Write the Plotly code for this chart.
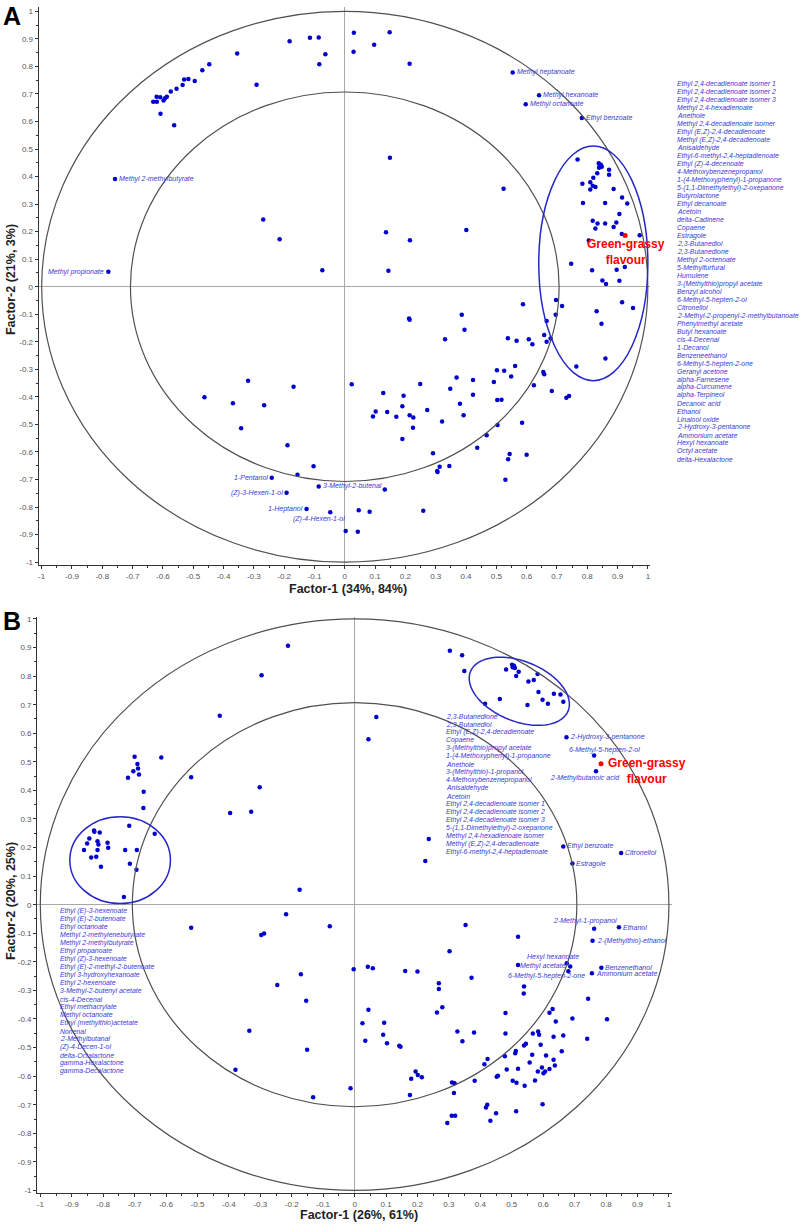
import numpy as np
import plotly.graph_objects as go

W, H = 800, 1224
FONT = "Liberation Sans, Arial, sans-serif"
PT_COLOR = "#0000cc"
LAB_COLOR = "#3a3ad6"
CIRCLE_COLOR = "#505050"
ELL_COLOR = "#2727c8"

# ---------------- tick labels ----------------
tick_vals = [-1, -0.9, -0.8, -0.7, -0.6, -0.5, -0.4, -0.3, -0.2, -0.1, 0,
             0.1, 0.2, 0.3, 0.4, 0.5, 0.6, 0.7, 0.8, 0.9, 1]
tick_text = ["-1", "-0.9", "-0.8", "-0.7", "-0.6", "-0.5", "-0.4", "-0.3", "-0.2", "-0.1", "0",
             "0.1", "0.2", "0.3", "0.4", "0.5", "0.6", "0.7", "0.8", "0.9", "1"]

# ---------------- Panel A data ----------------
a_x = [-0.632, -0.620, -0.621, -0.609, -0.598, -0.593, -0.587, -0.608, -0.574, -0.555, -0.535, -0.530,
       -0.516, -0.495, -0.470, -0.447, -0.563, -0.355, -0.291, -0.182, -0.115, -0.086, -0.064, -0.084,
       0.030, 0.029, 0.097, 0.148, 0.149, -0.269, -0.215, 0.136, -0.074, 0.144,
       0.214, 0.524, 0.401, 0.215, 0.768, 0.838, 0.845, 0.841, 0.848, 0.839, 0.872, 0.872, 0.833, 0.820,
       0.784, 0.810, 0.818, 0.827, 0.810, 0.887, 0.786, 0.859, 0.915, 0.932, 0.906, 0.818, 0.834, 0.859,
       0.896, 0.827, 0.887, 0.914, 0.973, 0.747, 0.816, 0.897, 0.924, 0.850, 0.862, 0.906, 0.805,
       0.697, 0.717, 0.588, 0.915, 0.951, 0.831, 0.696, 0.847, 0.666, 0.212, 0.214, 0.386, 0.395, 0.331,
       0.538, 0.567, 0.607, 0.619, 0.658, 0.666, 0.679, 0.860, 0.764, 0.502, 0.526, 0.562, 0.549, 0.655,
       0.658, 0.624, 0.683, 0.731, 0.740, 0.492, 0.369, 0.423, 0.249, 0.348, 0.423, 0.194, 0.503, 0.517,
       0.380, 0.190, 0.272, 0.392, 0.214, 0.226, 0.225, 0.190, 0.321, 0.504, 0.585, 0.468, 0.437, 0.291,
       0.313, 0.305, 0.306, 0.345, 0.539, 0.544, 0.600, 0.530, 0.259,
       -0.463, -0.369, -0.319, -0.266, -0.169, -0.342, -0.189, -0.103, -0.156, 0.132, 0.046, 0.082,
       0.003, 0.043, 0.023, 0.127, 0.102, 0.093, 0.140, 0.170]
a_y = [0.672, 0.672, 0.690, 0.688, 0.676, 0.684, 0.690, 0.628, 0.709, 0.719, 0.732, 0.752,
       0.754, 0.747, 0.786, 0.808, 0.586, 0.847, 0.733, 0.891, 0.904, 0.905, 0.844, 0.808,
       0.922, 0.853, 0.879, 0.924, 0.468, 0.244, 0.172, 0.198, 0.060, 0.058,
       0.810, 0.356, 0.206, 0.169, 0.462, 0.448, 0.443, 0.437, 0.436, 0.432, 0.425, 0.407, 0.412, 0.396,
       0.374, 0.379, 0.367, 0.362, 0.353, 0.355, 0.304, 0.304, 0.324, 0.302, 0.264, 0.240, 0.230, 0.230,
       0.233, 0.211, 0.217, 0.191, 0.187, 0.083, 0.060, 0.062, 0.072, 0.023, 0.010, 0.022, 0.168,
       -0.048, -0.070, -0.064, -0.056, -0.077, -0.089, -0.102, -0.134, -0.124, -0.115, -0.120, -0.102, -0.156, -0.191,
       -0.187, -0.196, -0.191, -0.209, -0.175, -0.200, -0.188, -0.261, -0.290, -0.303, -0.305, -0.288, -0.326, -0.310,
       -0.318, -0.358, -0.379, -0.403, -0.397, -0.346, -0.330, -0.339, -0.353, -0.370, -0.392, -0.396, -0.411, -0.410,
       -0.425, -0.434, -0.448, -0.467, -0.467, -0.475, -0.512, -0.553, -0.489, -0.502, -0.494, -0.539, -0.585, -0.605,
       -0.654, -0.669, -0.673, -0.651, -0.626, -0.607, -0.610, -0.701, -0.813,
       -0.401, -0.423, -0.341, -0.430, -0.363, -0.514, -0.576, -0.652, -0.683, -0.736, -0.812, -0.817,
       -0.887, -0.890, -0.354, -0.386, -0.453, -0.471, -0.455, -0.472]

a_lab_names = ["Methyl heptanoate", "Methyl hexanoate", "Methyl octanoate", "Ethyl benzoate",
               "Methyl 2-methylbutyrate", "Methyl propionate", "1-Pentanol", "(Z)-3-Hexen-1-ol",
               "3-Methyl-2-butenal", "1-Heptanol", "(Z)-4-Hexen-1-ol"]
a_lab_x = [0.554, 0.641, 0.597, 0.782, -0.758, -0.780, -0.241, -0.192, -0.086, -0.126, -0.048]
a_lab_y = [0.778, 0.695, 0.663, 0.613, 0.391, 0.054, -0.694, -0.748, -0.725, -0.807, -0.819]
a_lab_side = ["r", "r", "r", "r", "r", "l", "l", "l", "r", "l", "bl"]

a_red_x = [0.925]
a_red_y = [0.186]

a_list = ["Ethyl 2,4-decadienoate isomer 1", "Ethyl 2,4-decadienoate isomer 2",
          "Ethyl 2,4-decadienoate isomer 3", "Methyl 2,4-hexadienoate", "Anethole",
          "Methyl 2,4-decadienoate isomer", "Ethyl (E,Z)-2,4-decadienoate",
          "Methyl (E,Z)-2,4-decadienoate", "Anisaldehyde", "Ethyl-6-methyl-2,4-heptadienoate",
          "Ethyl (Z)-4-decenoate", "4-Methoxybenzenepropanol", "1-(4-Methoxyphenyl)-1-propanone",
          "5-(1,1-Dimethylethyl)-2-oxepanone", "Butyrolactone", "Ethyl decanoate", "Acetoin",
          "delta-Cadinene", "Copaene", "Estragole", "2,3-Butanediol", "2,3-Butanedione",
          "Methyl 2-octenoate", "5-Methylfurfural", "Humulene", "3-(Methylthio)propyl acetate",
          "Benzyl alcohol", "6-Methyl-5-hepten-2-ol", "Citronellol",
          "2-Methyl-2-propenyl-2-methylbutanoate", "Phenylmethyl acetate", "Butyl hexanoate",
          "cis-4-Decenal", "1-Decanol", "Benzeneethanol", "6-Methyl-5-hepten-2-one",
          "Geranyl acetone", "alpha-Farnesene", "alpha-Curcumene", "alpha-Terpineol",
          "Decanoic acid", "Ethanol", "Linalool oxide", "2-Hydroxy-3-pentanone",
          "Ammonium acetate", "Hexyl hexanoate", "Octyl acetate", "delta-Hexalactone"]

# ---------------- Panel B data ----------------
b_x = [-0.212, -0.296, -0.429, 0.069, 0.044, -0.615, -0.700, -0.691, -0.689, -0.704, -0.686, -0.721,
       -0.520, -0.671, -0.302, -0.672, -0.396, -0.329, -0.717, -0.636, -0.829, -0.828, -0.811, -0.844,
       -0.851, -0.818, -0.815, -0.786, -0.784, -0.861, -0.818, -0.730, -0.693, -0.838, -0.822, -0.715,
       -0.807, -0.694, -0.175, -0.734,
       0.303, 0.342, 0.349, 0.415, 0.462, 0.482, 0.501, 0.507, 0.510, 0.503, 0.522, 0.514, 0.553, 0.570,
       0.582, 0.585, 0.598, 0.615, 0.634, 0.655, 0.664, 0.550, 0.236, 0.225,
       -0.218, -0.079, -0.520, -0.297, -0.288, -0.003, 0.042, 0.058, -0.171, -0.246, -0.154, 0.044,
       0.025, 0.094, -0.335, 0.091, 0.034, 0.103, 0.142, -0.151, -0.379, -0.013, -0.132,
       0.353, 0.520, 0.302, 0.161, 0.200, 0.372, 0.268, 0.268, 0.520, 0.539, 0.538, 0.279, 0.262, 0.146,
       0.327, 0.343, 0.380, 0.480, 0.480, 0.478, 0.413, 0.423, 0.484, 0.452, 0.456, 0.194, 0.201, 0.180,
       0.214, 0.176, 0.310, 0.318, 0.316, 0.382, 0.503, 0.515, 0.520, 0.513, 0.511, 0.539, 0.545, 0.541,
       0.574, 0.557, 0.565, 0.567, 0.584, 0.587, 0.592, 0.609, 0.583, 0.596, 0.601, 0.606, 0.620, 0.633,
       0.637, 0.633, 0.664, 0.659, 0.620, 0.630, 0.640, 0.693, 0.743, 0.803, 0.740, 0.598, 0.422, 0.418,
       0.450, 0.432, 0.514, 0.309, 0.320, 0.295]
b_y = [0.906, 0.803, 0.661, 0.657, 0.579, 0.515, 0.518, 0.492, 0.477, 0.467, 0.456, 0.444,
       0.446, 0.395, 0.411, 0.338, 0.321, 0.325, 0.276, 0.248, 0.260, 0.255, 0.253, 0.232,
       0.214, 0.222, 0.211, 0.217, 0.199, 0.191, 0.191, 0.191, 0.191, 0.165, 0.168, 0.143,
       0.133, 0.122, 0.052, 0.027,
       0.889, 0.873, 0.818, 0.703, 0.720, 0.823, 0.840, 0.836, 0.828, 0.831, 0.815, 0.800, 0.781, 0.786,
       0.807, 0.744, 0.717, 0.703, 0.738, 0.736, 0.710, 0.699, 0.230, 0.153,
       -0.033, -0.075, -0.081, -0.106, -0.101, -0.226, -0.217, -0.222, -0.243, -0.281, -0.336, -0.368,
       -0.415, -0.413, -0.441, -0.455, -0.476, -0.485, -0.494, -0.508, -0.578, -0.642, -0.674,
       -0.071, -0.112, -0.163, -0.232, -0.234, -0.256, -0.275, -0.295, -0.211, -0.286, -0.311, -0.359, -0.377, -0.497,
       -0.444, -0.478, -0.447, -0.379, -0.451, -0.530, -0.558, -0.540, -0.577, -0.602, -0.599, -0.584, -0.596, -0.609,
       -0.604, -0.666, -0.622, -0.625, -0.659, -0.616, -0.616, -0.623, -0.574, -0.512, -0.520, -0.493, -0.487, -0.634,
       -0.615, -0.552, -0.525, -0.451, -0.444, -0.455, -0.490, -0.528, -0.584, -0.570, -0.590, -0.584, -0.575, -0.543,
       -0.563, -0.462, -0.458, -0.513, -0.378, -0.365, -0.409, -0.398, -0.329, -0.401, -0.469, -0.698, -0.700, -0.710,
       -0.730, -0.756, -0.723, -0.739, -0.739, -0.764]

b_lab_names = ["2-Hydroxy-3-pentanone", "6-Methyl-5-hepten-2-ol", "2-Methylbutanoic acid",
               "Ethyl benzoate", "Estragole", "Citronellol", "Hexyl hexanoate", "Methyl acetate",
               "6-Methyl-5-hepten-2-one", "2-Methyl-1-propanol", "Ethanol", "2-(Methylthio)-ethanol",
               "Benzenethanol", "Ammonium acetate"]
b_lab_x = [0.674, 0.762, 0.768, 0.664, 0.693, 0.848, 0.675, 0.686, 0.680, 0.762, 0.841, 0.757, 0.785, 0.755]
b_lab_y = [0.586, 0.522, 0.467, 0.204, 0.144, 0.181, -0.205, -0.216, -0.233, -0.084, -0.079, -0.126, -0.221, -0.240]
b_lab_side = ["r", "a", "bl", "r", "r", "r", "al", "l", "bl2", "al2", "r", "r", "r", "r"]

b_red_x = [0.784]
b_red_y = [0.493]

b_list_mid = ["2,3-Butanedione", "2,3-Butanediol", "Ethyl (E,Z)-2,4-decadienoate", "Copaene",
              "3-(Methylthio)propyl acetate", "1-(4-Methoxyphenyl)-1-propanone", "Anethole",
              "3-(Methylthio)-1-propanol", "4-Methoxybenzenepropanol", "Anisaldehyde", "Acetoin",
              "Ethyl 2,4-decadienoate isomer 1", "Ethyl 2,4-decadienoate isomer 2",
              "Ethyl 2,4-decadienoate isomer 3", "5-(1,1-Dimethylethyl)-2-oxepanone",
              "Methyl 2,4-hexadienoate isomer", "Methyl (E,Z)-2,4-decadienoate",
              "Ethyl-6-methyl-2,4-heptadienoate"]
b_list_left = ["Ethyl (E)-3-hexenoate", "Ethyl (E)-2-butenoate", "Ethyl octanoate",
               "Methyl 2-methylenebutyrate", "Methyl 2-methylbutyrate", "Ethyl propanoate",
               "Ethyl (Z)-3-hexenoate", "Ethyl (E)-2-methyl-2-butenoate", "Ethyl 3-hydroxyhexanoate",
               "Ethyl 2-hexenoate", "3-Methyl-2-butenyl acetate", "cis-4-Decenal", "Ethyl methacrylate",
               "Methyl octanoate", "Ethyl (methylthio)actetate", "Nonenal", "2-Methylbutanal",
               "(Z)-4-Decen-1-ol", "delta-Octalactone", "gamma-Hexalactone", "gamma-Decalactone"]

# ---------------- layout geometry (pixels) ----------------
A_xr, A_yr = [-1.01, 1.008], [-1.012, 1.015]
B_xr, B_yr = [-1.01, 1.01], [-1.01, 1.008]
A_px = (37.7, 650.1, 5.2, 565.3)     # left, right, top, bottom
B_px = (36.2, 671.9, 616.7, 1195.2)

def dom_x(p):
    return [p[0] / W, p[1] / W]

def dom_y(p):
    return [1 - p[3] / H, 1 - p[2] / H]

fig = go.Figure()

def pts(x, y, xa, ya, color, size=4.5):
    fig.add_trace(go.Scatter(x=x, y=y, mode="markers", xaxis=xa, yaxis=ya,
                             marker=dict(color=color, size=size, line=dict(width=0)),
                             showlegend=False, hoverinfo="skip"))

pts(a_x, a_y, "x", "y", PT_COLOR)
pts(a_lab_x, a_lab_y, "x", "y", PT_COLOR)
pts(a_red_x, a_red_y, "x", "y", "#ff0000", 5)
pts(b_x, b_y, "x2", "y2", PT_COLOR)
pts(b_lab_x, b_lab_y, "x2", "y2", PT_COLOR)
pts(b_red_x, b_red_y, "x2", "y2", "#ff0000", 5)

axis_common = dict(showline=True, linecolor="#333333", linewidth=1, ticks="outside", ticklen=3,
                   tickcolor="#333333", tickwidth=1, showgrid=False, zeroline=True,
                   zerolinecolor="#a8a8a8", zerolinewidth=1,
                   tickmode="array", tickvals=tick_vals, ticktext=tick_text,
                   tickfont=dict(family=FONT, size=8, color="#555555"),
                   minor=dict(ticks="outside", ticklen=2, tickcolor="#333333",
                              tickmode="linear", tick0=0, dtick=0.05),
                   fixedrange=True)

fig.update_layout(
    width=W, height=H, margin=dict(l=0, r=0, t=0, b=0),
    paper_bgcolor="white", plot_bgcolor="white",
    font=dict(family=FONT),
    xaxis=dict(domain=dom_x(A_px), range=A_xr, anchor="y", **axis_common),
    yaxis=dict(domain=dom_y(A_px), range=A_yr, anchor="x", **axis_common),
    xaxis2=dict(domain=dom_x(B_px), range=B_xr, anchor="y2", **axis_common),
    yaxis2=dict(domain=dom_y(B_px), range=B_yr, anchor="x2", **axis_common),
)

shapes = []
for xr, yr in (("x", "y"), ("x2", "y2")):
    for r in (1.0, np.sqrt(0.5)):
        shapes.append(dict(type="circle", xref=xr, yref=yr, x0=-r, x1=r, y0=-r, y1=r,
                           line=dict(color=CIRCLE_COLOR, width=1.2)))

# ellipses (centre, radii in data units)
ell_a = dict(cx=0.820, cy=0.085, rx=0.180, ry=0.426)
ell_b_left = dict(cx=-0.746, cy=0.156, rx=0.160, ry=0.152)
for e, xr, yr in ((ell_a, "x", "y"), (ell_b_left, "x2", "y2")):
    shapes.append(dict(type="circle", xref=xr, yref=yr,
                       x0=e["cx"] - e["rx"], x1=e["cx"] + e["rx"],
                       y0=e["cy"] - e["ry"], y1=e["cy"] + e["ry"],
                       line=dict(color=ELL_COLOR, width=1.5)))

# tilted ellipse in panel B (semi-axes given in screen pixels, tilt in degrees)
ell_b_top = dict(cx=0.524, cy=0.747, a_px=52.7, b_px=30.1, tilt=-22)
sxB = (B_px[1] - B_px[0]) / (B_xr[1] - B_xr[0])
syB = (B_px[3] - B_px[2]) / (B_yr[1] - B_yr[0])
t = np.linspace(0, 2 * np.pi, 120)
th = np.radians(ell_b_top["tilt"])
ux = ell_b_top["a_px"] * np.cos(t) * np.cos(th) - ell_b_top["b_px"] * np.sin(t) * np.sin(th)
uy = ell_b_top["a_px"] * np.cos(t) * np.sin(th) + ell_b_top["b_px"] * np.sin(t) * np.cos(th)
ex = ell_b_top["cx"] + ux / sxB
ey = ell_b_top["cy"] + uy / syB
path = "M " + " L ".join(f"{a:.5f},{b:.5f}" for a, b in zip(ex, ey)) + " Z"
shapes.append(dict(type="path", xref="x2", yref="y2", path=path,
                   line=dict(color=ELL_COLOR, width=1.5)))
fig.update_layout(shapes=shapes)

ann = []
LAB_FONT = dict(family=FONT, size=7, color=LAB_COLOR, style="italic")
LIST_FONT = dict(family=FONT, size=6.9, color=LAB_COLOR, style="italic")

side_cfg = {
    "r": dict(xanchor="left", xshift=3, yshift=0),
    "l": dict(xanchor="right", xshift=-3, yshift=0),
    "bl": dict(xanchor="center", xshift=-11, yshift=-7),
    "a": dict(xanchor="center", xshift=10, yshift=6),
    "al": dict(xanchor="center", xshift=-14, yshift=6),
    "bl2": dict(xanchor="center", xshift=-22, yshift=-5),
    "al2": dict(xanchor="center", xshift=-9, yshift=8),
}

def point_labels(names, xs, ys, sides, xr, yr):
    for n, x, y, s in zip(names, xs, ys, sides):
        c = side_cfg[s]
        ann.append(dict(text=n, x=x, y=y, xref=xr, yref=yr, showarrow=False,
                        xanchor=c["xanchor"], yanchor="middle", xshift=c["xshift"],
                        yshift=c["yshift"], font=LAB_FONT, borderpad=0))

point_labels(a_lab_names, a_lab_x, a_lab_y, a_lab_side, "x", "y")
point_labels(b_lab_names, b_lab_x, b_lab_y, b_lab_side, "x2", "y2")

def text_list(names, x_px, y0_px, step):
    for i, n in enumerate(names):
        ann.append(dict(text=n, x=x_px / W, y=1 - (y0_px + i * step) / H, xref="paper", yref="paper",
                        showarrow=False, xanchor="left", yanchor="middle", font=LIST_FONT, borderpad=0))

text_list(a_list, 676.0, 82.0, 8.02)
text_list(b_list_mid, 444.3, 716.7, 8.0)
text_list(b_list_left, 58.0, 912.3, 8.02)

GG_FONT = dict(family=FONT, size=12, color="#ff0000", weight="bold")
ann.append(dict(text="Green-grassy<br>flavour", x=a_red_x[0], y=a_red_y[0], xref="x", yref="y",
                showarrow=False, xanchor="center", yanchor="middle", xshift=1, yshift=-16.5,
                font=GG_FONT, align="center"))
ann.append(dict(text="Green-grassy<br>flavour", x=b_red_x[0], y=b_red_y[0], xref="x2", yref="y2",
                showarrow=False, xanchor="center", yanchor="middle", xshift=45.5, yshift=-7.5,
                font=GG_FONT, align="center"))

TITLE_FONT = dict(family=FONT, size=12.5, color="#222222", weight="bold")
ann.append(dict(text="Factor-1 (34%, 84%)", x=347 / W, y=1 - 589 / H, xref="paper", yref="paper",
                showarrow=False, xanchor="center", yanchor="middle", font=TITLE_FONT))
ann.append(dict(text="Factor-2 (21%, 3%)", x=10 / W, y=1 - 278 / H, xref="paper", yref="paper",
                showarrow=False, xanchor="center", yanchor="middle", textangle=-90, font=TITLE_FONT))
ann.append(dict(text="Factor-1 (26%, 61%)", x=358 / W, y=1 - 1217 / H, xref="paper", yref="paper",
                showarrow=False, xanchor="center", yanchor="middle", font=TITLE_FONT))
ann.append(dict(text="Factor-2 (20%, 25%)", x=10 / W, y=1 - 902 / H, xref="paper", yref="paper",
                showarrow=False, xanchor="center", yanchor="middle", textangle=-90, font=TITLE_FONT))

LETTER_FONT = dict(family=FONT, size=25, color="#000000", weight="bold")
ann.append(dict(text="A", x=11 / W, y=1 - 14 / H, xref="paper", yref="paper", showarrow=False,
                xanchor="center", yanchor="middle", font=LETTER_FONT))
ann.append(dict(text="B", x=11 / W, y=1 - 621 / H, xref="paper", yref="paper", showarrow=False,
                xanchor="center", yanchor="middle", font=LETTER_FONT))

fig.update_layout(annotations=ann)
fig.write_html("out.html")
